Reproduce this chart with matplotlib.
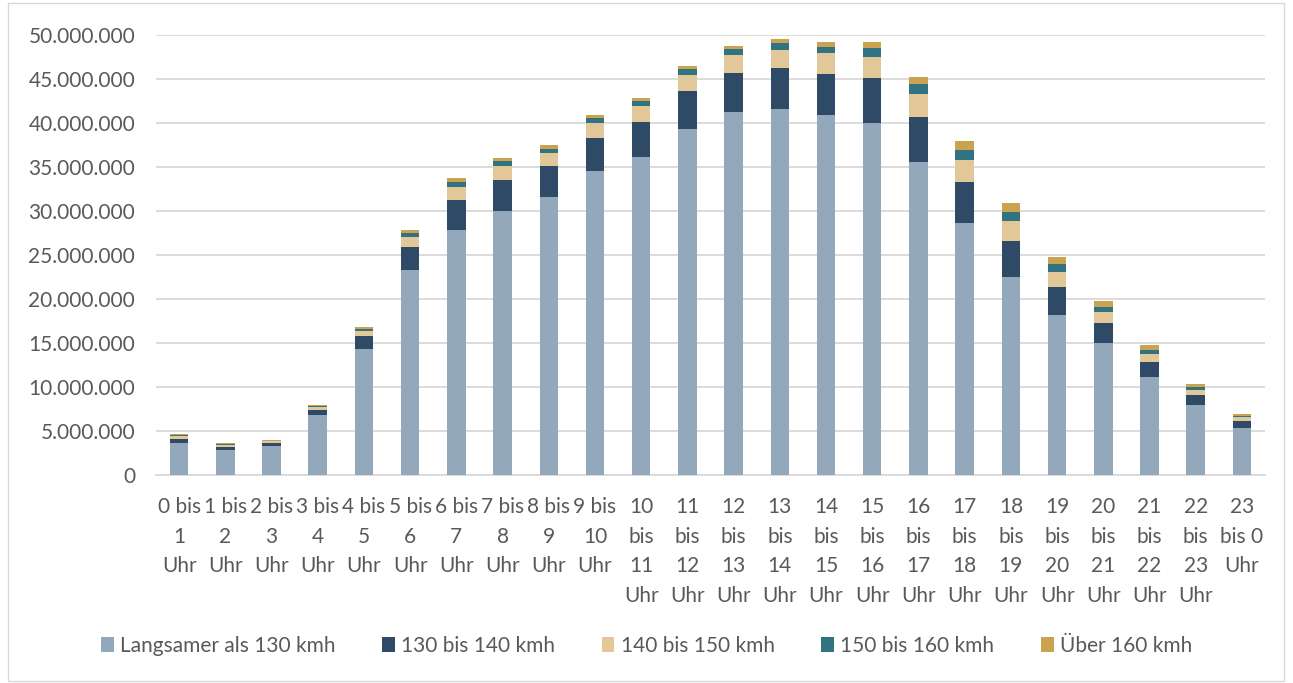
import numpy as np
import matplotlib
matplotlib.use('Agg')
import matplotlib.pyplot as plt
from matplotlib.ticker import FuncFormatter
from matplotlib.patches import Rectangle

plt.rcParams['font.family'] = ['Lato', 'DejaVu Sans']

# Stundenintervalle
categories = [
    '0 bis\n1\nUhr', '1 bis\n2\nUhr', '2 bis\n3\nUhr', '3 bis\n4\nUhr', '4 bis\n5\nUhr',
    '5 bis\n6\nUhr', '6 bis\n7\nUhr', '7 bis\n8\nUhr', '8 bis\n9\nUhr', '9 bis\n10\nUhr',
    '10\nbis\n11\nUhr', '11\nbis\n12\nUhr', '12\nbis\n13\nUhr', '13\nbis\n14\nUhr',
    '14\nbis\n15\nUhr', '15\nbis\n16\nUhr', '16\nbis\n17\nUhr', '17\nbis\n18\nUhr',
    '18\nbis\n19\nUhr', '19\nbis\n20\nUhr', '20\nbis\n21\nUhr', '21\nbis\n22\nUhr',
    '22\nbis\n23\nUhr', '23\nbis 0\nUhr',
]

# Werte in Millionen
langsamer_130 = [3.67, 2.88, 3.30, 6.78, 14.3, 23.3, 27.84, 30.0, 31.55, 34.55,
                 36.17, 39.35, 41.2, 41.6, 40.87, 40.0, 35.6, 28.6, 22.5, 18.2,
                 14.97, 11.14, 7.9, 5.38]
kmh_130_140 = [0.46, 0.34, 0.37, 0.64, 1.5, 2.6, 3.41, 3.52, 3.56, 3.75,
               3.94, 4.29, 4.48, 4.7, 4.73, 5.08, 5.08, 4.7, 4.14, 3.2,
               2.33, 1.74, 1.23, 0.76]
kmh_140_150 = [0.30, 0.23, 0.19, 0.27, 0.6, 1.18, 1.52, 1.59, 1.52, 1.7,
               1.79, 1.84, 2.02, 2.0, 2.3, 2.42, 2.65, 2.46, 2.19, 1.7,
               1.2, 0.91, 0.57, 0.42]
kmh_150_160 = [0.12, 0.11, 0.06, 0.11, 0.2, 0.42, 0.57, 0.57, 0.45, 0.6,
               0.63, 0.66, 0.67, 0.8, 0.76, 1.06, 1.14, 1.21, 1.06, 0.88,
               0.6, 0.45, 0.34, 0.18]
ueber_160 = [0.11, 0.11, 0.06, 0.15, 0.2, 0.34, 0.41, 0.34, 0.4, 0.3,
             0.35, 0.36, 0.41, 0.45, 0.53, 0.61, 0.73, 0.98, 1.01, 0.82,
             0.67, 0.5, 0.3, 0.23]

series_labels = ['Langsamer als 130 kmh', '130 bis 140 kmh', '140 bis 150 kmh',
                 '150 bis 160 kmh', 'Über 160 kmh']
colors = ['#94A8BC', '#2E4A66', '#E2C799', '#317380', '#C9A34F']

series = [langsamer_130, kmh_130_140, kmh_140_150, kmh_150_160, ueber_160]

fig = plt.figure(figsize=(12.93, 6.83), dpi=100)
ax = fig.add_axes([156 / 1293, 1 - 475 / 683, (1265 - 156) / 1293, (475 - 35) / 683])

x = np.arange(len(categories))
bottom = np.zeros(len(categories))
for vals, lab, col in zip(series, series_labels, colors):
    v = np.array(vals) * 1e6
    ax.bar(x, v, width=0.4, bottom=bottom, color=col, label=lab, zorder=3)
    bottom += v

text_col = '#595959'
fs = 15
ax.set_xlim(-0.5, len(categories) - 0.5)
ax.set_ylim(0, 50e6)
ax.set_yticks(np.arange(0, 50e6 + 1, 5e6))
ax.yaxis.set_major_formatter(FuncFormatter(lambda v, p: f'{int(v):,}'.replace(',', '.')))
ax.set_xticks(x)
ax.set_xticklabels(categories, linespacing=1.6)
ax.grid(axis='y', color='#D9D9D9', linewidth=1.3, zorder=0)
for s in ['top', 'right', 'left']:
    ax.spines[s].set_visible(False)
ax.spines['bottom'].set_color('#D9D9D9')
ax.spines['bottom'].set_linewidth(1.3)
ax.tick_params(axis='both', length=0, labelsize=fs, labelcolor=text_col)
ax.tick_params(axis='y', pad=15)
ax.tick_params(axis='x', pad=16)

fig.legend(loc='center', bbox_to_anchor=(0.5, 1 - 646 / 683), ncol=5, frameon=False,
           fontsize=fs, labelcolor=text_col, handlelength=0.6, handleheight=0.7,
           handletextpad=0.3, columnspacing=2.25)

fig.patches.append(Rectangle((8 / 1293, 2 / 683), 1276 / 1293, 678 / 683,
                             transform=fig.transFigure, fill=False,
                             edgecolor='#D9D9D9', linewidth=1))

fig.savefig('out.png', dpi=100)
